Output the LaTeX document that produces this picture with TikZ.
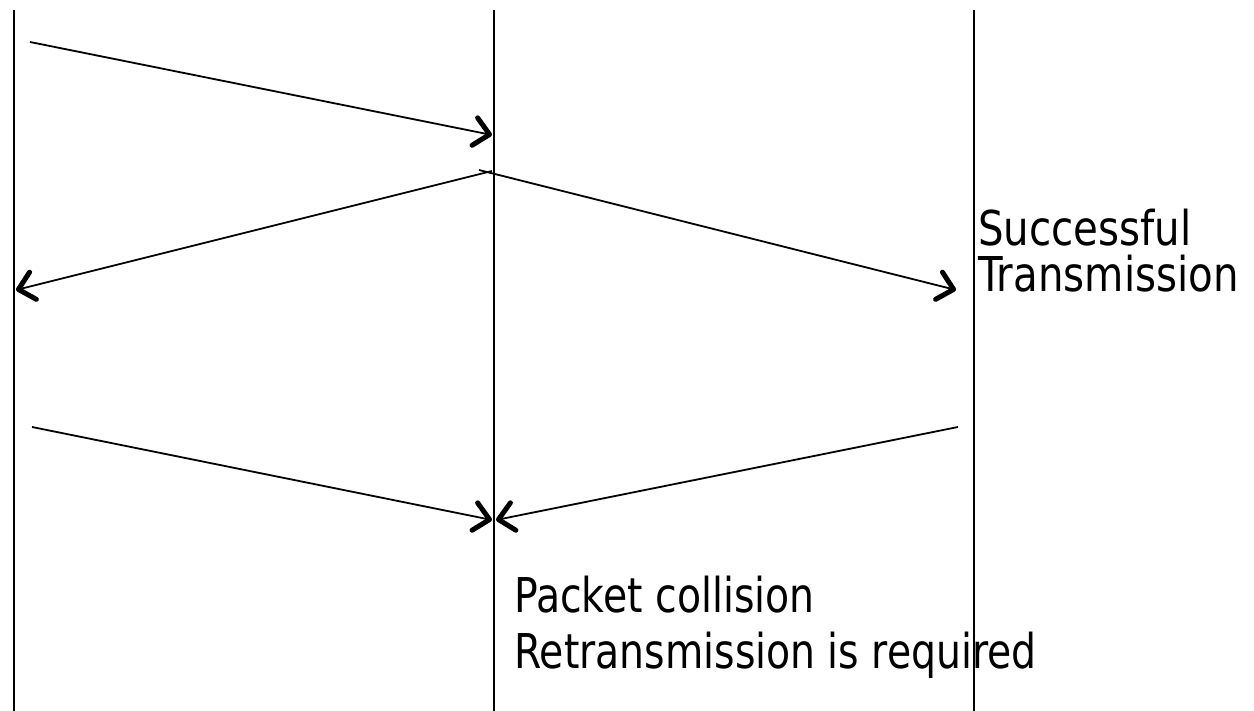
\documentclass[tikz,border=0pt]{standalone}
\usepackage{fontspec}
\setmainfont{DejaVu Sans}
\usetikzlibrary{arrows.meta}
\begin{document}
\begin{tikzpicture}[x=1pt,y=-1pt,
  lifeline/.style={line width=2pt},
  msg/.style={line width=1.8pt,
    -{Straight Barb[length=15pt,width=28pt,line width=5pt,round]}},
  lbl/.style={inner sep=0pt,anchor=base west,
    font=\fontsize{48}{56}\selectfont}]
  \useasboundingbox (0,0) rectangle (1254,711);
  % three stations: left, middle, right
  \coordinate (lt) at (14,10);  \coordinate (lb) at (14,711);
  \coordinate (mt) at (494,10); \coordinate (mb) at (494,711);
  \coordinate (rt) at (974,10); \coordinate (rb) at (974,711);
  \draw[lifeline] (lt) -- (lb);
  \draw[lifeline] (mt) -- (mb);
  \draw[lifeline] (rt) -- (rb);
  % first exchange: left sends, middle relays to both sides
  \coordinate (a1) at (30,42);   \coordinate (a2) at (492,135);
  \coordinate (b1) at (492,171); \coordinate (b2) at (16,290);
  \coordinate (c1) at (479,170); \coordinate (c2) at (956,290);
  \draw[msg] (a1) -- (a2);
  \draw[msg] (b1) -- (b2);
  \draw[msg] (c1) -- (c2);
  % second exchange: both ends send at once
  \coordinate (d1) at (32,427);  \coordinate (d2) at (492,520);
  \coordinate (e1) at (958,427); \coordinate (e2) at (496,520);
  \draw[msg] (d1) -- (d2);
  \draw[msg] (e1) -- (e2);
  % labels
  \node[lbl] (s1) at (978,246) {\scalebox{0.84}[1]{Successful}};
  \node[lbl] (s2) at (978,292) {\scalebox{0.84}[1]{Transmission}};
  \node[lbl] (p1) at (514,612) {\scalebox{0.82}[1]{Packet collision}};
  \node[lbl] (p2) at (514,668) {\scalebox{0.82}[1]{Retransmission is required}};
\end{tikzpicture}
\end{document}
